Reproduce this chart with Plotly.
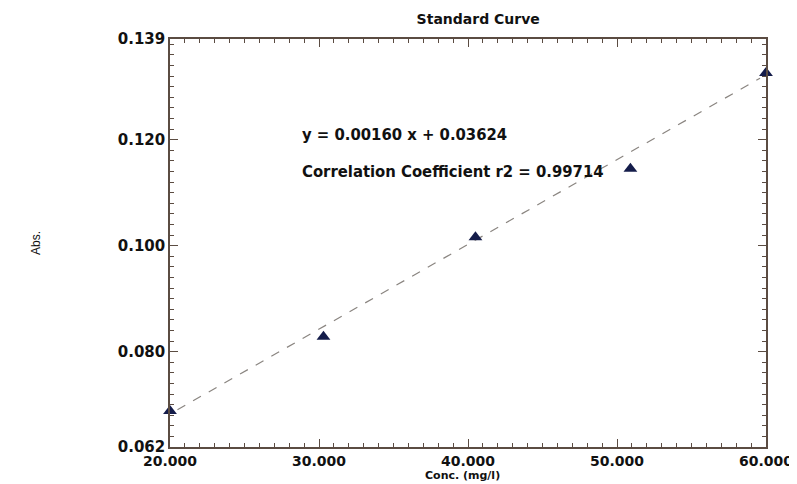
import plotly.graph_objects as go

conc = [20.0, 30.3, 40.5, 50.9, 60.0]
absorb = [0.0688, 0.0828, 0.1016, 0.1145, 0.1326]
slope = 0.00160
intercept = 0.03624
r2 = 0.99714
fit_x = [20.5, 59.6]
x_ticks = [20, 30, 40, 50, 60]
y_ticks = [0.062, 0.080, 0.100, 0.120, 0.139]

fit_y = [slope * v + intercept for v in fit_x]

fig = go.Figure()
fig.add_trace(go.Scatter(x=fit_x, y=fit_y, mode="lines",
                         line=dict(color="#8a8580", width=1.2, dash="dash"),
                         hoverinfo="skip", showlegend=False))
fig.add_trace(go.Scatter(x=conc, y=absorb, mode="markers",
                         marker=dict(symbol="triangle-up", size=12, color="#141c4a"),
                         cliponaxis=False, showlegend=False))

tickfont = dict(family="DejaVu Sans", size=15, color="#111111", weight="bold")
axcol = "#5b4c42"

fig.update_xaxes(range=[20, 60], tickmode="array", tickvals=x_ticks,
                 ticktext=[f"{v:.3f}" for v in x_ticks],
                 ticks="inside", ticklen=8, tickcolor=axcol, tickwidth=1,
                 showline=True, linecolor=axcol, linewidth=1.5, mirror="allticks",
                 showgrid=False, zeroline=False,
                 tickfont=dict(family="DejaVu Sans", size=14, color="#111111", weight="bold"),
                 ticklabeloverflow="allow", ticklabelstandoff=0,
                 minor=dict(tickmode="linear", tick0=20, dtick=1, ticks="inside",
                            ticklen=4, tickcolor=axcol, showgrid=False))
fig.update_yaxes(range=[0.062, 0.139], tickmode="array", tickvals=y_ticks,
                 ticktext=[f"{v:.3f}" for v in y_ticks],
                 ticks="inside", ticklen=8, tickcolor=axcol, tickwidth=1,
                 showline=True, linecolor=axcol, linewidth=1.5, mirror="allticks",
                 showgrid=False, zeroline=False, tickfont=tickfont,
                 ticklabeloverflow="allow",
                 minor=dict(tickmode="linear", tick0=0.062, dtick=0.002, ticks="inside",
                            ticklen=4, tickcolor=axcol, showgrid=False),
                 title=dict(text="Abs.", standoff=75,
                            font=dict(family="Liberation Sans", size=12, color="#111111")))

fig.add_annotation(xref="paper", yref="paper", x=0.49, y=-0.091, xanchor="center", yanchor="bottom",
                   text="Conc. (mg/l)", showarrow=False,
                   font=dict(family="DejaVu Sans", size=11, color="#111111", weight="bold"))

annfont = dict(family="DejaVu Sans Condensed, Liberation Sans Narrow, Roboto Condensed, sans-serif",
               size=16.5, color="#111111", weight="bold")
fig.add_annotation(xref="paper", yref="paper", x=0.218, y=0.767, xanchor="left", yanchor="middle",
                   text=f"y = {slope:.5f} x + {intercept:.5f}", showarrow=False, font=annfont)
fig.add_annotation(xref="paper", yref="paper", x=0.218, y=0.676, xanchor="left", yanchor="middle",
                   text=f"Correlation Coefficient r2 = {r2:.5f}", showarrow=False, font=annfont)

fig.update_layout(width=797, height=484, margin=dict(l=162, r=24, t=31, b=45),
                  paper_bgcolor="white", plot_bgcolor="white",
                  title=dict(text="Standard Curve", x=0.59, xanchor="center", y=0.978, yanchor="middle",
                             font=dict(family="DejaVu Sans", size=14, color="#111111", weight="bold")))

fig.write_html("out.html")
